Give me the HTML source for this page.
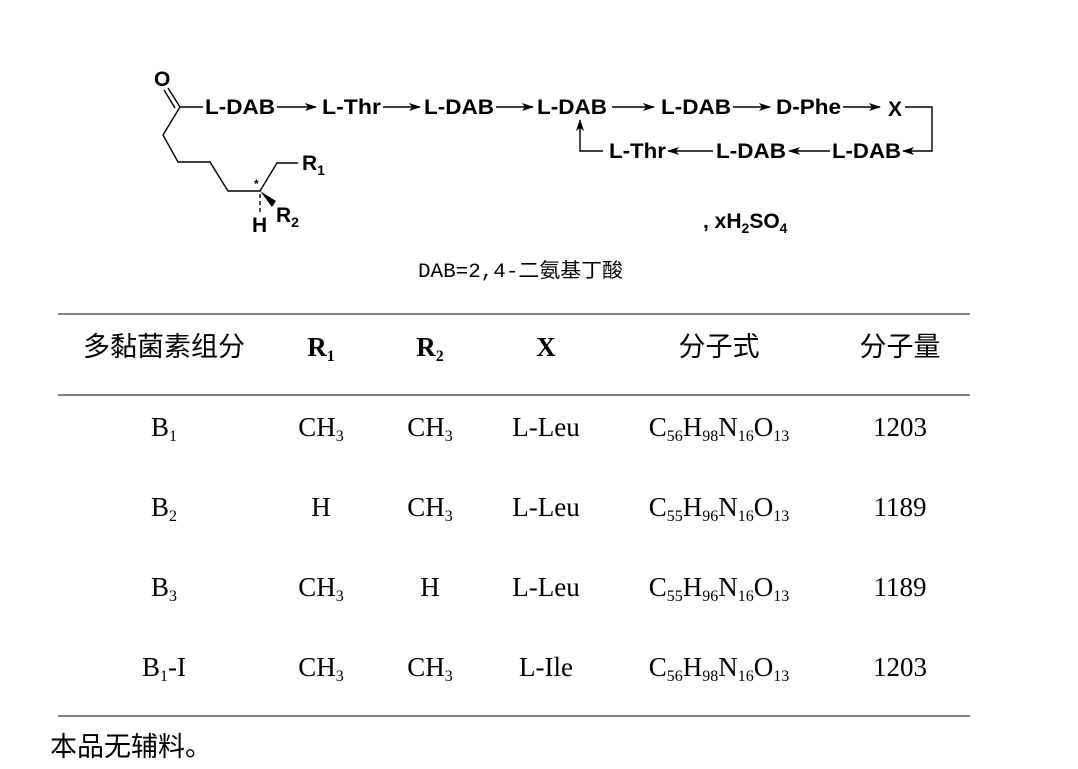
<!DOCTYPE html>
<html><head><meta charset="utf-8"><style>
body{margin:0;background:#fff;width:1078px;height:769px;overflow:hidden}
svg{position:absolute;left:0;top:0}
.b{font-family:"Liberation Sans",sans-serif;font-weight:bold;font-size:21px}
.s{font-family:"Liberation Serif","Noto Serif CJK SC",serif;font-size:27px}
.c{font-family:"Liberation Sans","Noto Sans CJK SC",sans-serif;font-size:27px}
</style></head><body>
<svg width="1078" height="769" xmlns="http://www.w3.org/2000/svg">
<defs><marker id="a" markerWidth="12" markerHeight="8" refX="11" refY="4" orient="auto" markerUnits="userSpaceOnUse"><path d="M0,0 L12,4 L0,8 L3,4z" fill="#000"/></marker></defs>
<g stroke="#000" stroke-width="1.4" fill="none">
<line x1="168" y1="88" x2="180" y2="107"/><line x1="164" y1="90" x2="175" y2="108"/>
<polyline points="203,107 180,107 163,135 178,162 210,162 228,191 260,191 277,163 298,163"/>
<line x1="260" y1="194" x2="260" y2="214" stroke-dasharray="4,3"/>
<line x1="277" y1="107" x2="316" y2="107" marker-end="url(#a)"/>
<line x1="383" y1="107" x2="420" y2="107" marker-end="url(#a)"/>
<line x1="496" y1="107" x2="533" y2="107" marker-end="url(#a)"/>
<line x1="612" y1="107" x2="654" y2="107" marker-end="url(#a)"/>
<line x1="733" y1="107" x2="770" y2="107" marker-end="url(#a)"/>
<line x1="843" y1="107" x2="880" y2="107" marker-end="url(#a)"/>
<polyline points="905,107 932,107 932,151 903,151" marker-end="url(#a)"/>
<line x1="830" y1="151" x2="789" y2="151" marker-end="url(#a)"/>
<line x1="713" y1="151" x2="668" y2="151" marker-end="url(#a)"/>
<polyline points="603,151 580,151 580,120" marker-end="url(#a)"/>
<line x1="58" y1="314" x2="970" y2="314" stroke-width="1"/>
<line x1="58" y1="395" x2="970" y2="395" stroke-width="1"/>
<line x1="58" y1="716" x2="970" y2="716" stroke-width="1"/>
</g>
<path d="M260,191 L276,201 L272,207z" fill="#000"/>
<g class="b">
<text x="154" y="86">O</text>
<text x="205" y="114" textLength="70" lengthAdjust="spacingAndGlyphs">L-DAB</text>
<text x="322" y="114" textLength="59" lengthAdjust="spacingAndGlyphs">L-Thr</text>
<text x="424" y="114" textLength="70" lengthAdjust="spacingAndGlyphs">L-DAB</text>
<text x="537" y="114" textLength="70" lengthAdjust="spacingAndGlyphs">L-DAB</text>
<text x="661" y="114" textLength="70" lengthAdjust="spacingAndGlyphs">L-DAB</text>
<text x="776" y="114" textLength="65" lengthAdjust="spacingAndGlyphs">D-Phe</text>
<text x="888" y="116">X</text>
<text x="832" y="158" textLength="69" lengthAdjust="spacingAndGlyphs">L-DAB</text>
<text x="716" y="158" textLength="70" lengthAdjust="spacingAndGlyphs">L-DAB</text>
<text x="609" y="158" textLength="57" lengthAdjust="spacingAndGlyphs">L-Thr</text>
<text x="302" y="170">R<tspan font-size="14" dy="5">1</tspan></text>
<text x="276" y="222">R<tspan font-size="14" dy="5">2</tspan></text>
<text x="252" y="232">H</text>
<text x="254" y="188" font-size="12">*</text>
<text x="703" y="228">, xH<tspan font-size="14" dy="5">2</tspan><tspan dy="-5">SO</tspan><tspan font-size="14" dy="5">4</tspan></text>
</g>
<text x="418" y="277" textLength="205" lengthAdjust="spacingAndGlyphs" font-family="'Liberation Mono','Noto Sans CJK SC',monospace" font-size="20">DAB=2,4-二氨基丁酸</text>
<g class="c" text-anchor="middle"><text x="164" y="356">多黏菌素组分</text><text x="719" y="356">分子式</text><text x="900" y="356">分子量</text></g>
<g class="s" text-anchor="middle" font-weight="bold">
<text x="321" y="356">R<tspan font-size="16" dy="5">1</tspan></text>
<text x="430" y="356">R<tspan font-size="16" dy="5">2</tspan></text>
<text x="546" y="356">X</text></g>
<g class="s" text-anchor="middle">
<text x="164" y="436">B<tspan font-size="16" dy="5">1</tspan></text>
<text x="321" y="436">CH<tspan font-size="16" dy="5">3</tspan></text>
<text x="430" y="436">CH<tspan font-size="16" dy="5">3</tspan></text>
<text x="546" y="436">L-Leu</text>
<text x="719" y="436">C<tspan font-size="16" dy="5">56</tspan><tspan dy="-5">H</tspan><tspan font-size="16" dy="5">98</tspan><tspan dy="-5">N</tspan><tspan font-size="16" dy="5">16</tspan><tspan dy="-5">O</tspan><tspan font-size="16" dy="5">13</tspan></text>
<text x="900" y="436">1203</text>
<text x="164" y="516">B<tspan font-size="16" dy="5">2</tspan></text>
<text x="321" y="516">H</text>
<text x="430" y="516">CH<tspan font-size="16" dy="5">3</tspan></text>
<text x="546" y="516">L-Leu</text>
<text x="719" y="516">C<tspan font-size="16" dy="5">55</tspan><tspan dy="-5">H</tspan><tspan font-size="16" dy="5">96</tspan><tspan dy="-5">N</tspan><tspan font-size="16" dy="5">16</tspan><tspan dy="-5">O</tspan><tspan font-size="16" dy="5">13</tspan></text>
<text x="900" y="516">1189</text>
<text x="164" y="596">B<tspan font-size="16" dy="5">3</tspan></text>
<text x="321" y="596">CH<tspan font-size="16" dy="5">3</tspan></text>
<text x="430" y="596">H</text>
<text x="546" y="596">L-Leu</text>
<text x="719" y="596">C<tspan font-size="16" dy="5">55</tspan><tspan dy="-5">H</tspan><tspan font-size="16" dy="5">96</tspan><tspan dy="-5">N</tspan><tspan font-size="16" dy="5">16</tspan><tspan dy="-5">O</tspan><tspan font-size="16" dy="5">13</tspan></text>
<text x="900" y="596">1189</text>
<text x="164" y="676">B<tspan font-size="16" dy="5">1</tspan><tspan dy="-5">-I</tspan></text>
<text x="321" y="676">CH<tspan font-size="16" dy="5">3</tspan></text>
<text x="430" y="676">CH<tspan font-size="16" dy="5">3</tspan></text>
<text x="546" y="676">L-Ile</text>
<text x="719" y="676">C<tspan font-size="16" dy="5">56</tspan><tspan dy="-5">H</tspan><tspan font-size="16" dy="5">98</tspan><tspan dy="-5">N</tspan><tspan font-size="16" dy="5">16</tspan><tspan dy="-5">O</tspan><tspan font-size="16" dy="5">13</tspan></text>
<text x="900" y="676">1203</text>
</g>
<text class="c" x="50" y="756">本品无辅料。</text>
</svg>
</body></html>
